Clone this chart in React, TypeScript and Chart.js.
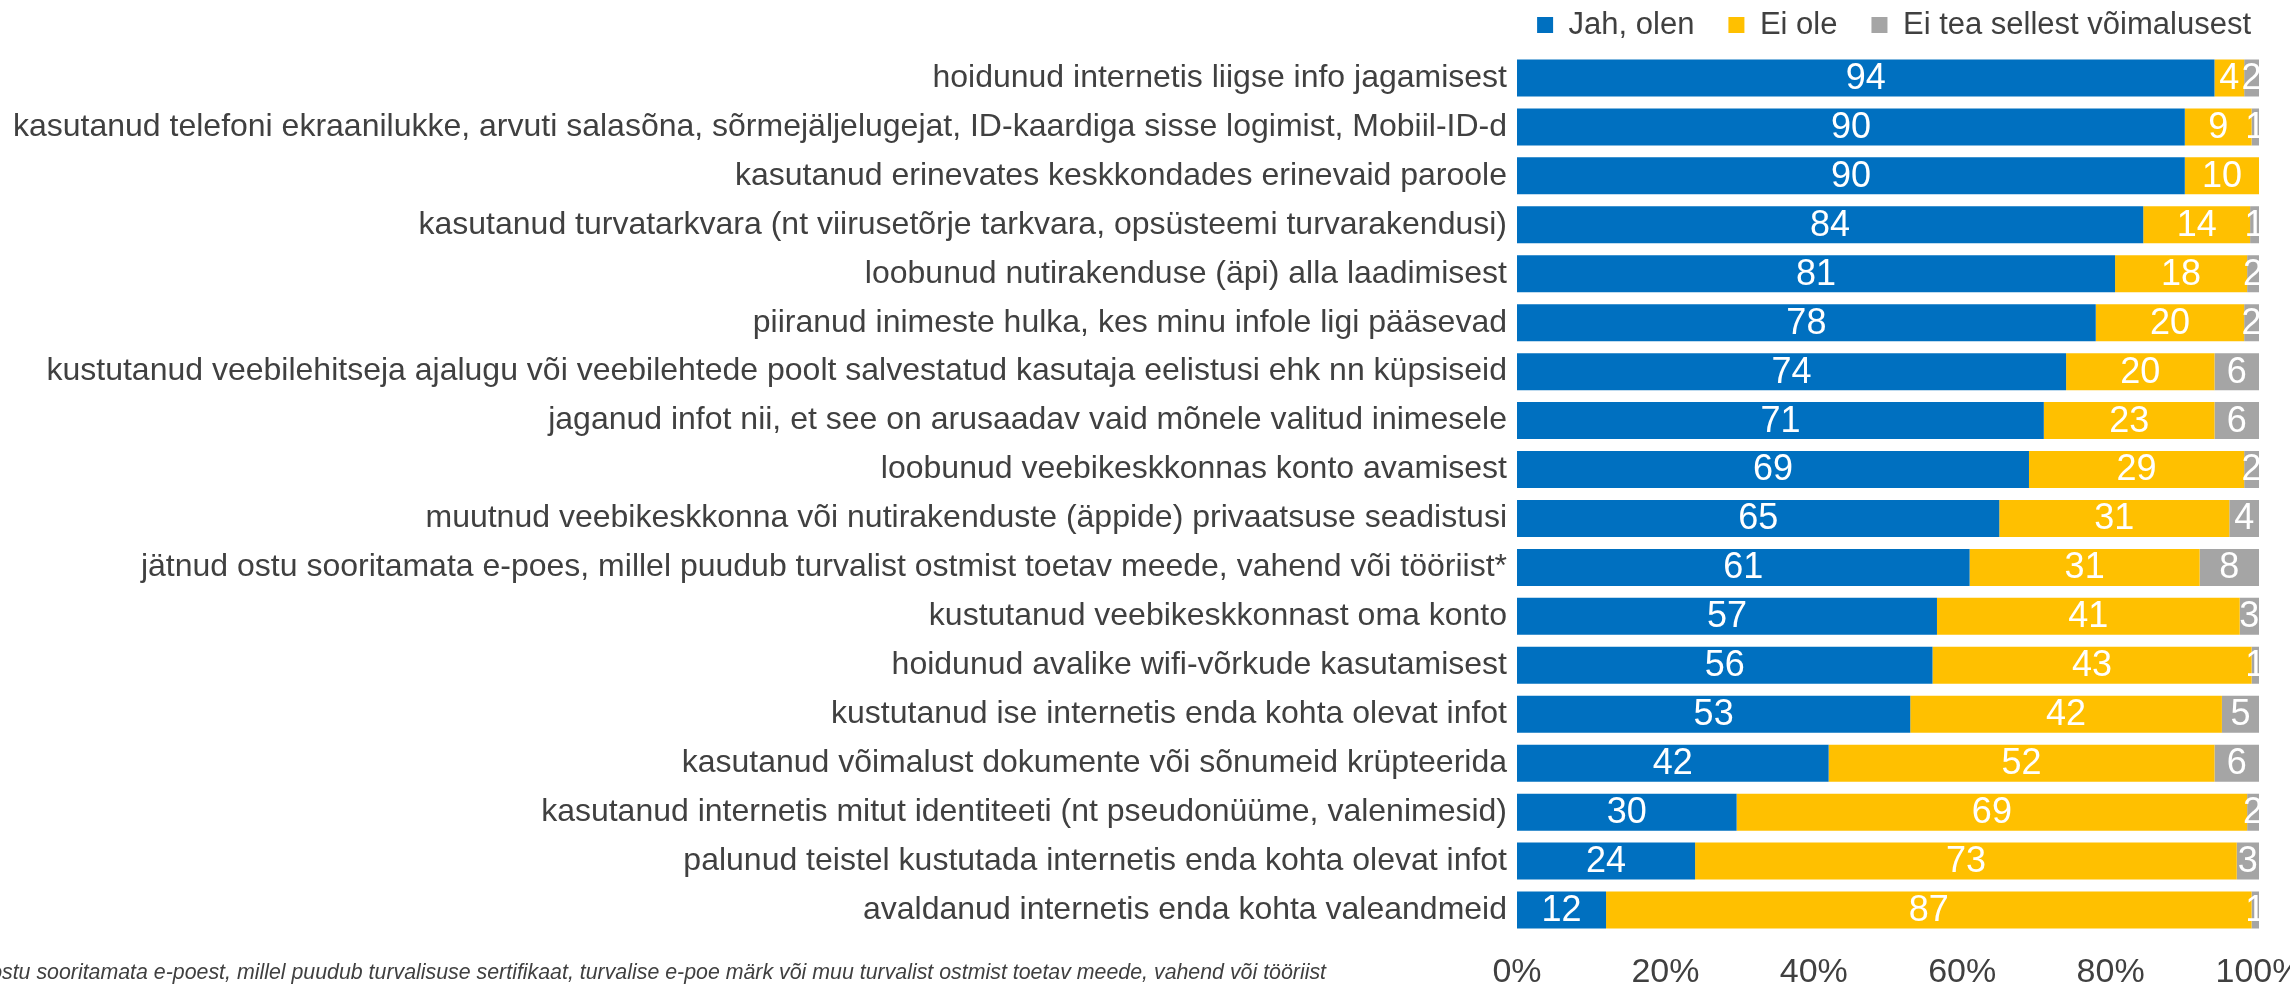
import React, { useEffect, useRef } from "react";
import { Chart, registerables } from "chart.js";

Chart.register(...registerables);

const categories = [
  "hoidunud internetis liigse info jagamisest",
  "kasutanud telefoni ekraanilukke, arvuti salasõna, sõrmejäljelugejat, ID-kaardiga sisse logimist, Mobiil-ID-d",
  "kasutanud erinevates keskkondades erinevaid paroole",
  "kasutanud turvatarkvara (nt viirusetõrje tarkvara, opsüsteemi turvarakendusi)",
  "loobunud nutirakenduse (äpi) alla laadimisest",
  "piiranud inimeste hulka, kes minu infole ligi pääsevad",
  "kustutanud veebilehitseja ajalugu või veebilehtede poolt salvestatud kasutaja eelistusi ehk nn küpsiseid",
  "jaganud infot nii, et see on arusaadav vaid mõnele valitud inimesele",
  "loobunud veebikeskkonnas konto avamisest",
  "muutnud veebikeskkonna või nutirakenduste (äppide) privaatsuse seadistusi",
  "jätnud ostu sooritamata e-poes, millel puudub turvalist ostmist toetav meede, vahend või tööriist*",
  "kustutanud veebikeskkonnast oma konto",
  "hoidunud avalike wifi-võrkude kasutamisest",
  "kustutanud ise internetis enda kohta olevat infot",
  "kasutanud võimalust dokumente või sõnumeid krüpteerida",
  "kasutanud internetis mitut identiteeti (nt pseudonüüme, valenimesid)",
  "palunud teistel kustutada internetis enda kohta olevat infot",
  "avaldanud internetis enda kohta valeandmeid",
];

const seriesNames = ["Jah, olen", "Ei ole", "Ei tea sellest võimalusest"];

const jahOlen = [94, 90, 90, 84.4, 80.6, 78, 74, 71, 69, 65, 61, 56.6, 56, 53, 42, 29.6, 24, 12];
const eiOle = [4, 9, 10, 14.4, 17.8, 20, 20, 23, 29, 31, 31, 40.8, 43, 42, 52, 68.8, 73, 87];
const eiTea = [2, 1, 0, 1.2, 1.6, 2, 6, 6, 2, 4, 8, 2.6, 1, 5, 6, 1.6, 3, 1];

const tickValues = [0, 20, 40, 60, 80, 100];

const footnote =
  "*Jätnud ostu sooritamata e-poest, millel puudub turvalisuse sertifikaat, turvalise e-poe märk või muu turvalist ostmist toetav meede, vahend või tööriist";
const footnoteVisible =
  "stu sooritamata e-poest, millel puudub turvalisuse sertifikaat, turvalise e-poe märk või muu turvalist ostmist toetav meede, vahend või tööriist";

const colors = ["#0070C0", "#FFC000", "#A5A5A5"];
const textColor = "#404040";
const FONT = "'Liberation Sans', Arial, sans-serif";
const LEGEND_SIZE = 31;
const LEGEND_PAD = 34;

export default function App() {
  const ref = useRef<HTMLCanvasElement | null>(null);

  useEffect(() => {
    if (!ref.current) return;

    const valueLabels = {
      id: "valueLabels",
      afterDatasetsDraw(chart: any) {
        const ctx = chart.ctx;
        ctx.save();
        ctx.font = `36px ${FONT}`;
        ctx.fillStyle = "#ffffff";
        ctx.textAlign = "center";
        ctx.textBaseline = "middle";
        chart.data.datasets.forEach((ds: any, di: number) => {
          const meta = chart.getDatasetMeta(di);
          meta.data.forEach((el: any, i: number) => {
            const v = ds.data[i];
            if (!v) return;
            const cx = (el.x + el.base) / 2;
            ctx.fillText(String(Math.round(v)), cx, el.y + 1);
          });
        });
        ctx.restore();
      },
    };

    const footnotePlugin = {
      id: "footnote",
      afterDraw(chart: any) {
        const ctx = chart.ctx;
        ctx.save();
        ctx.font = `italic 22px ${FONT}`;
        ctx.fillStyle = textColor;
        ctx.textAlign = "right";
        ctx.textBaseline = "middle";
        const w = ctx.measureText(footnoteVisible).width;
        const sx = 1324 / w;
        ctx.translate(1326, 973);
        ctx.scale(sx, 1);
        ctx.fillText(footnote, 0, 0);
        ctx.restore();
      },
    };

    const legendTweak = {
      id: "legendTweak",
      afterInit(chart: any) {
        const lg = chart.legend;
        if (lg && !lg.__patched) {
          const orig = lg.fit;
          lg.fit = function () {
            orig.call(this);
            this.height = 53.5;
          };
          lg.__patched = true;
        }
      },
      afterLayout(chart: any) {
        const lg = chart.legend;
        if (!lg) return;
        lg.top = 25 - LEGEND_PAD - LEGEND_SIZE / 2;
        lg.left += 26;
        lg.right += 26;
      },
    };

    const chart = new Chart(ref.current, {
      type: "bar",
      data: {
        labels: categories,
        datasets: [
          { label: seriesNames[0], data: jahOlen, backgroundColor: colors[0] },
          { label: seriesNames[1], data: eiOle, backgroundColor: colors[1] },
          { label: seriesNames[2], data: eiTea, backgroundColor: colors[2] },
        ],
      },
      options: {
        indexAxis: "y",
        animation: false,
        responsive: false,
        maintainAspectRatio: false,
        layout: { padding: { top: 0, right: 31, left: 0, bottom: 0 } },
        datasets: {
          bar: { categoryPercentage: 1, barPercentage: 0.756, borderWidth: 0 },
        },
        scales: {
          x: {
            stacked: true,
            min: 0,
            max: 100,
            afterBuildTicks(scale: any) {
              scale.ticks = tickValues.map((v) => ({ value: v }));
            },
            afterFit(scale: any) {
              scale.height = 52.5;
              scale.paddingLeft = 0;
              scale.paddingRight = 0;
            },
            grid: { display: false, drawTicks: false },
            border: { display: false },
            ticks: {
              padding: 18,
              color: textColor,
              font: { family: FONT, size: 34 },
              maxRotation: 0,
              callback: (v: any) => `${v}%`,
            },
          },
          y: {
            stacked: true,
            afterFit(scale: any) {
              scale.width = 1517;
              scale.paddingTop = 0;
              scale.paddingBottom = 0;
            },
            grid: { display: false, drawTicks: false },
            border: { display: false },
            ticks: {
              padding: 10,
              color: textColor,
              font: { family: FONT, size: 32 },
              autoSkip: false,
            },
          },
        },
        plugins: {
          legend: {
            display: true,
            position: "top",
            align: "end",
            labels: {
              boxWidth: 16,
              boxHeight: 16,
              padding: LEGEND_PAD,
              color: textColor,
              font: { family: FONT, size: LEGEND_SIZE },
            },
          },
          tooltip: { enabled: false },
          title: { display: false },
        },
      },
      plugins: [valueLabels, footnotePlugin, legendTweak],
    } as any);

    return () => chart.destroy();
  }, []);

  return (
    <div style={{ position: "fixed", left: 0, top: 0, width: 2290, height: 987, background: "#fff" }}>
      <canvas ref={ref} width={2290} height={987} style={{ width: 2290, height: 987, display: "block" }} />
    </div>
  );
}
